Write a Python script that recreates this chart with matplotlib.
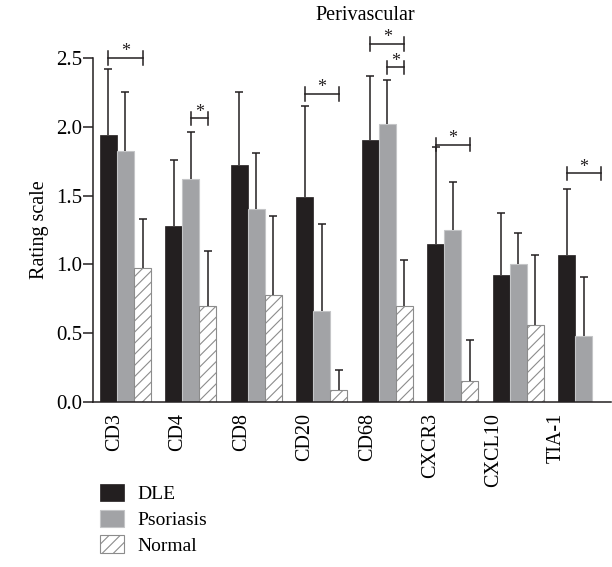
import numpy as np
import matplotlib
matplotlib.use("Agg")
import matplotlib.pyplot as plt

# Data.
markers = ["CD3", "CD4", "CD8", "CD20", "CD68", "CXCR3", "CXCL10", "TIA-1"]
dle = [1.94, 1.28, 1.72, 1.49, 1.90, 1.15, 0.92, 1.07]
dle_err = [0.48, 0.48, 0.53, 0.66, 0.47, 0.70, 0.45, 0.48]
psoriasis = [1.82, 1.62, 1.40, 0.66, 2.02, 1.25, 1.00, 0.48]
psoriasis_err = [0.43, 0.34, 0.41, 0.63, 0.32, 0.35, 0.23, 0.43]
normal = [0.97, 0.70, 0.78, 0.09, 0.70, 0.15, 0.56, 0.0]
normal_err = [0.36, 0.40, 0.57, 0.14, 0.33, 0.30, 0.51, 0.0]

# Significance brackets: (group, from series, to series, height).
# series index: 0 = DLE, 1 = Psoriasis, 2 = Normal
brackets = [
    (0, 0, 2, 2.50),
    (1, 1, 2, 2.06),
    (3, 0, 2, 2.24),
    (4, 0, 2, 2.60),
    (4, 1, 2, 2.43),
    (5, 0, 2, 1.87),
    (7, 0, 2, 1.66),
]

plt.rcParams["font.family"] = ["Liberation Serif", "DejaVu Serif"]
plt.rcParams["hatch.linewidth"] = 0.8

fig = plt.figure(figsize=(6.12, 5.67), dpi=100)
ax = fig.add_axes([0.152, 0.291, 0.846, 0.607])

x = np.arange(len(markers))
w = 0.26
offsets = [-w, 0, w]

ax.bar(x - w, dle, w, color="#231f20", edgecolor="#231f20", linewidth=0.5,
       label="DLE", zorder=2)
ax.bar(x, psoriasis, w, color="#a2a3a6", edgecolor="#c4c5c7", linewidth=0.8,
       label="Psoriasis", zorder=2)
# last group has no normal bar
ax.bar(x[:-1] + w, normal[:-1], w, color="white", edgecolor="#8c8c8c",
       hatch="///", linewidth=0.8, label="Normal", zorder=2)


# Upper error bars only (hide the lower cap).
def upper_errorbar(xs, ys, errs):
    eb = ax.errorbar(xs, ys, yerr=[np.zeros(len(ys)), errs], fmt="none",
                     ecolor="#231f20", elinewidth=1.1, capsize=3.2,
                     capthick=1.1, zorder=3)
    eb[1][0].set_visible(False)


upper_errorbar(x - w, dle, dle_err)
upper_errorbar(x, psoriasis, psoriasis_err)
upper_errorbar(x[:-1] + w, normal[:-1], normal_err[:-1])

# Brackets with stars.
for g, a, b, h in brackets:
    x0 = g + offsets[a]
    x1 = g + offsets[b]
    ax.plot([x0, x1], [h, h], color="#231f20", lw=1.1, clip_on=False)
    for xe in (x0, x1):
        ax.plot([xe, xe], [h - 0.05, h + 0.05], color="#231f20", lw=1.1,
                clip_on=False)
    ax.text((x0 + x1) / 2, h + 0.012, "*", ha="center", va="baseline",
            fontsize=13, color="#231f20")

ax.set_xlim(-0.496, 7.415)
ax.set_ylim(0, 2.5)
ax.set_yticks([0.0, 0.5, 1.0, 1.5, 2.0, 2.5])
ax.set_yticklabels(["0.0", "0.5", "1.0", "1.5", "2.0", "2.5"], fontsize=15)
ax.set_xticks(np.arange(len(markers)) * 0.964 - 0.16)
ax.set_xticklabels(markers, rotation=90, fontsize=14.5, va="top")
ax.tick_params(axis="x", length=0, pad=8)
ax.tick_params(axis="y", length=7, width=1.1, pad=1, color="#231f20")
ax.set_ylabel("Rating scale", fontsize=14.5, labelpad=5)

for side in ("top", "right"):
    ax.spines[side].set_visible(False)
for side in ("left", "bottom"):
    ax.spines[side].set_linewidth(1.1)
    ax.spines[side].set_color("#231f20")

fig.text(0.596, 0.972, "Perivascular", ha="center", va="center", fontsize=14.5)

fig.legend(loc="upper left", bbox_to_anchor=(100 / 612, 1 - 484 / 567),
           frameon=False, fontsize=14, borderpad=0, borderaxespad=0,
           handlelength=1.25, handleheight=1.0, handletextpad=0.65,
           labelspacing=0.32)

fig.savefig("out.png", dpi=100)
